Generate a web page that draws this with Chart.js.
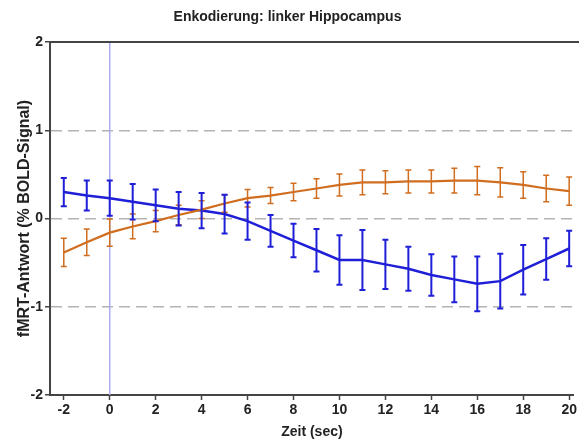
<!DOCTYPE html>
<html>
<head>
<meta charset="utf-8">
<script src="https://cdn.jsdelivr.net/npm/chart.js@4.4.1/dist/chart.umd.min.js"></script>
<style>
  html, body { margin: 0; padding: 0; background: #ffffff; }
  #wrap { width: 579px; height: 441px; }
</style>
</head>
<body>
<div id="wrap"><canvas id="c" width="579" height="441"></canvas></div>
<script>
const timePoints = [-2,-1,0,1,2,3,4,5,6,7,8,9,10,11,12,13,14,15,16,17,18,19,20];
const blueMean = [0.30,0.26,0.23,0.19,0.15,0.11,0.09,0.05,-0.03,-0.14,-0.25,-0.36,-0.47,-0.47,-0.52,-0.57,-0.64,-0.69,-0.74,-0.71,-0.58,-0.46,-0.34];
const blueErr  = [0.16,0.17,0.20,0.20,0.18,0.19,0.20,0.22,0.21,0.18,0.19,0.24,0.28,0.34,0.28,0.25,0.235,0.26,0.31,0.31,0.28,0.235,0.20];
const orangeMean = [-0.385,-0.27,-0.16,-0.09,-0.03,0.04,0.10,0.17,0.23,0.26,0.30,0.34,0.38,0.41,0.41,0.42,0.42,0.43,0.43,0.41,0.38,0.34,0.31];
const orangeErr  = [0.16,0.15,0.155,0.14,0.12,0.11,0.10,0.10,0.10,0.09,0.10,0.11,0.125,0.14,0.13,0.13,0.13,0.14,0.16,0.165,0.15,0.15,0.16];
const xTickValues = [-2,0,2,4,6,8,10,12,14,16,18,20];
const yTickValues = [-2,-1,0,1,2];
const titleText = 'Enkodierung: linker Hippocampus';
const xTitle = 'Zeit (sec)';
const yTitle = 'fMRT-Antwort (% BOLD-Signal)';
const referenceX = 0;

const BLUE = '#1f1fd8';
const ORANGE = '#d06d1f';
const FONT = 'Liberation Sans, Arial, sans-serif';

function toPoints(xs, ys) { return xs.map((x, i) => ({x: x, y: ys[i]})); }

const errorBarPlugin = {
  id: 'errorBars',
  beforeDatasetsDraw(chart) {
    const {ctx, chartArea, scales} = chart;
    const px = scales.x.getPixelForValue(referenceX);
    ctx.save();
    ctx.strokeStyle = '#acacf2';
    ctx.lineWidth = 1.5;
    ctx.beginPath();
    ctx.moveTo(px, chartArea.top);
    ctx.lineTo(px, chartArea.bottom);
    ctx.stroke();
    ctx.strokeStyle = '#444444';
    ctx.lineWidth = 2;
    ctx.beginPath();
    ctx.moveTo(chartArea.left, chartArea.top);
    ctx.lineTo(chart.width, chartArea.top);
    ctx.stroke();
    ctx.restore();
  },
  afterDatasetsDraw(chart) {
    const {ctx, scales} = chart;
    chart.data.datasets.forEach((ds) => {
      const errs = ds.errors;
      if (!errs) return;
      ctx.save();
      ctx.strokeStyle = ds.borderColor;
      ctx.lineWidth = ds.errWidth;
      ds.data.forEach((p, i) => {
        const x = scales.x.getPixelForValue(p.x);
        const yTop = scales.y.getPixelForValue(p.y + errs[i]);
        const yBot = scales.y.getPixelForValue(p.y - errs[i]);
        ctx.beginPath();
        ctx.moveTo(x, yTop); ctx.lineTo(x, yBot);
        ctx.moveTo(x - 3, yTop); ctx.lineTo(x + 3, yTop);
        ctx.moveTo(x - 3, yBot); ctx.lineTo(x + 3, yBot);
        ctx.stroke();
      });
      ctx.restore();
    });
  }
};

new Chart(document.getElementById('c'), {
  type: 'line',
  data: {
    datasets: [
      {
        label: 'orange',
        data: toPoints(timePoints, orangeMean),
        errors: orangeErr,
        errWidth: 1.5,
        borderColor: ORANGE,
        borderWidth: 2.2,
        pointRadius: 0,
        tension: 0,
        fill: false
      },
      {
        label: 'blue',
        data: toPoints(timePoints, blueMean),
        errors: blueErr,
        errWidth: 2,
        borderColor: BLUE,
        borderWidth: 2.5,
        pointRadius: 0,
        tension: 0,
        fill: false
      }
    ]
  },
  options: {
    responsive: false,
    animation: false,
    devicePixelRatio: 1,
    layout: { padding: { left: 0, right: 4, top: 0, bottom: 0 } },
    plugins: {
      legend: { display: false },
      tooltip: { enabled: false },
      title: {
        display: true,
        text: titleText,
        color: '#222222',
        font: { family: FONT, size: 14, weight: 'bold' },
        padding: { top: 9, bottom: 16.2 }
      }
    },
    scales: {
      x: {
        type: 'linear',
        min: -2.6,
        max: 20.2,
        afterBuildTicks(scale) { scale.ticks = xTickValues.map(v => ({value: v})); },
        afterFit(scale) { scale.height = 46; },
        ticks: {
          color: '#222222',
          font: { family: FONT, size: 14, weight: 'bold' },
          padding: 2,
          maxRotation: 0,
          autoSkip: false
        },
        grid: {
          display: true,
          drawOnChartArea: false,
          drawTicks: true,
          tickLength: 5,
          tickColor: '#444444',
          tickWidth: 1.5
        },
        border: { display: true, color: '#444444', width: 2 },
        title: {
          display: true,
          text: xTitle,
          color: '#222222',
          font: { family: FONT, size: 14, weight: 'bold' },
          padding: { top: 0, bottom: 0 }
        }
      },
      y: {
        type: 'linear',
        min: -2,
        max: 2,
        afterBuildTicks(scale) { scale.ticks = yTickValues.map(v => ({value: v})); },
        afterFit(scale) { scale.width = 50; },
        ticks: {
          color: '#222222',
          font: { family: FONT, size: 14, weight: 'bold' },
          padding: 2
        },
        grid: {
          display: true,
          drawOnChartArea: true,
          drawTicks: true,
          tickLength: 5,
          tickColor: '#444444',
          tickWidth: 1.5,
          lineWidth: 1.5,
          color: (c) => (c.tick && Math.abs(c.tick.value) === 2) ? 'rgba(0,0,0,0)' : '#b4b4b4'
        },
        border: { display: true, color: '#444444', width: 2, dash: [11, 6] },
        title: {
          display: true,
          text: yTitle,
          color: '#222222',
          font: { family: FONT, size: 16, weight: 'bold' },
          padding: { top: 15, bottom: 0 }
        }
      }
    }
  },
  plugins: [errorBarPlugin]
});
</script>
</body>
</html>
